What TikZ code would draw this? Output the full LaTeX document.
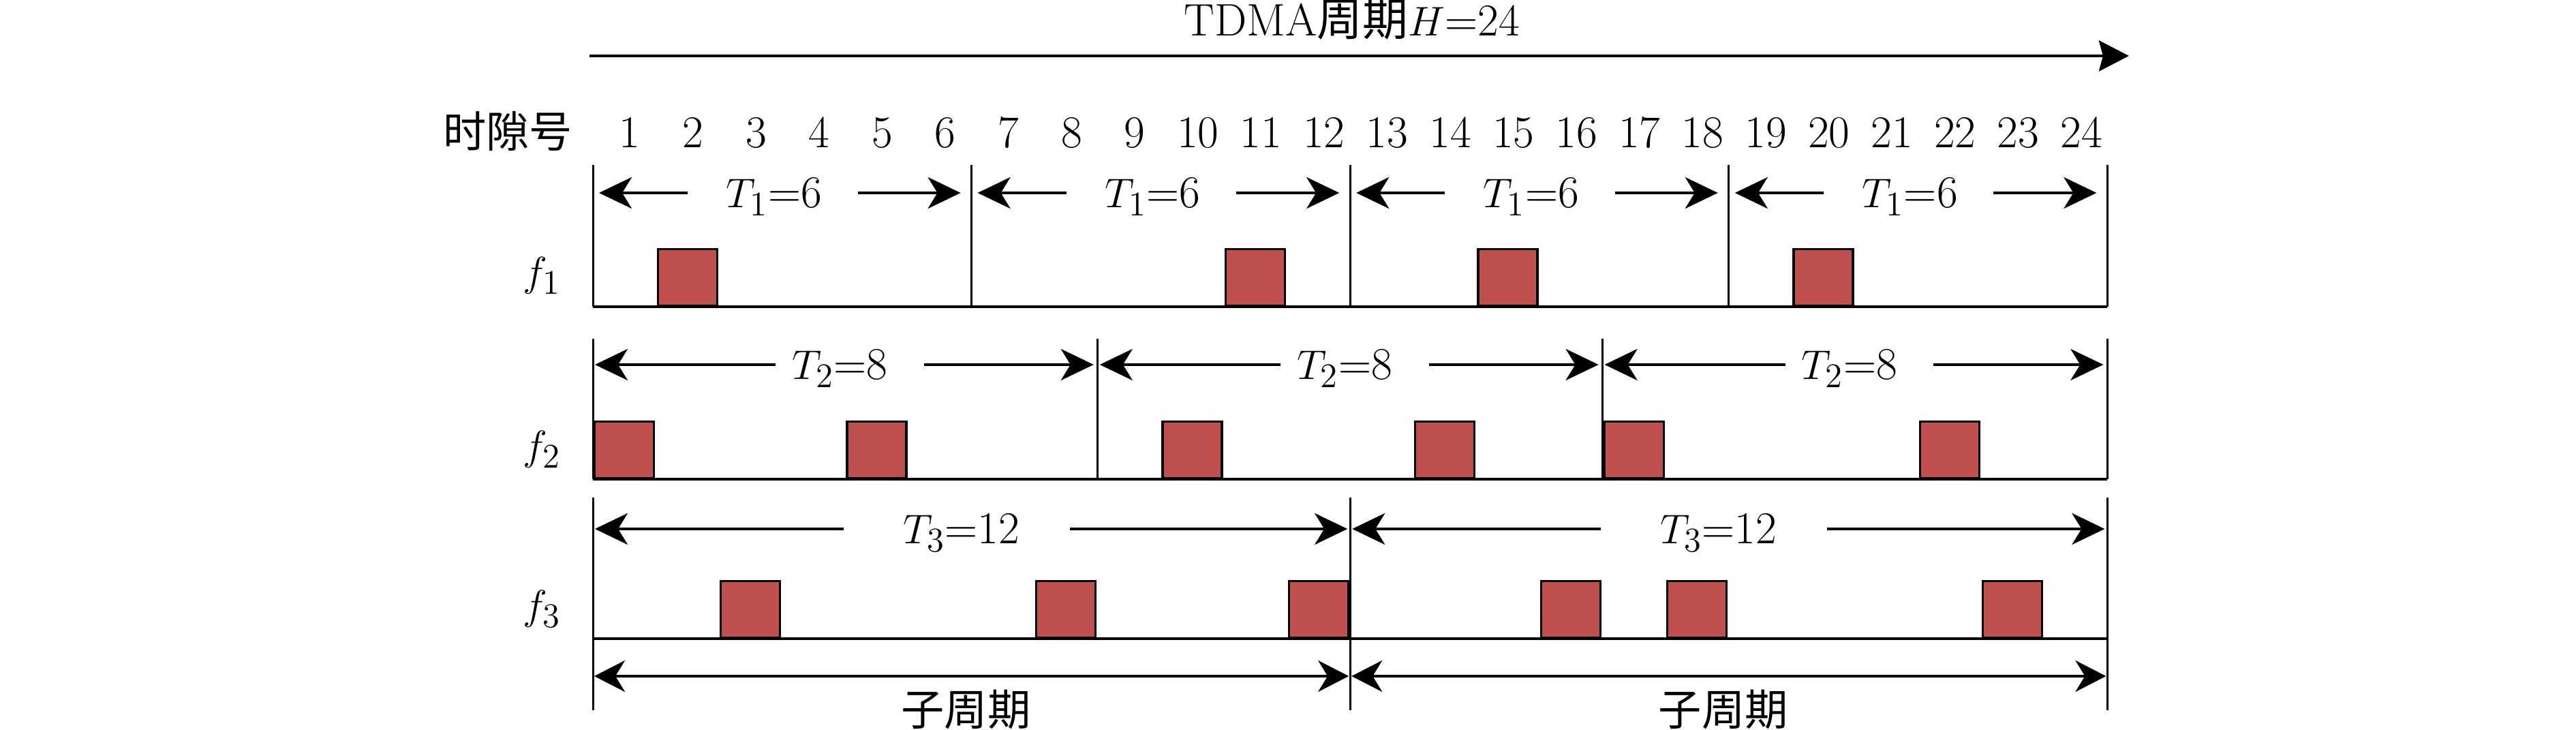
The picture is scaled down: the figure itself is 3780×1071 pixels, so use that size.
\documentclass[tikz,border=0pt]{standalone}
\usepackage{fontspec}
\newfontfamily\cjk{Noto Sans CJK SC}
\usetikzlibrary{arrows.meta}
\definecolor{slotred}{HTML}{C0504D}
\begin{document}
\begin{tikzpicture}[x=0.01cm,y=-0.01cm,
  every node/.style={inner sep=0pt, font=\fontsize{19}{22}\selectfont},
  cjktext/.style={font=\fontsize{18}{22}\selectfont\cjk},
  thinline/.style={line width=0.85pt},
  baseln/.style={line width=1.2pt},
  dimarrow/.style={line width=1.2pt, -{Stealth[length=0.48cm,width=0.46cm,inset=0.14cm]}},
  botharrow/.style={line width=1.2pt, {Stealth[length=0.45cm,width=0.46cm,inset=0.14cm]}-{Stealth[length=0.45cm,width=0.46cm,inset=0.14cm]}},
  slotbox/.style={draw, line width=0.9pt, fill=slotred, minimum width=0.87cm, minimum height=0.83cm, anchor=south west}
]
\useasboundingbox (0,0) rectangle (3780,1071);
\def\xo{870}
\def\cw{92.6}
% title arrow
\coordinate (hs) at (865,82);
\coordinate (he) at (3124,82);
\draw[line width=1.3pt, -{Stealth[length=0.44cm,width=0.45cm,inset=0.06cm]}] (hs) -- (he);
\node[anchor=base] (title) at (1984,53) {TDMA{\cjk 周期}$H$=24};
% slot numbers
\node[cjktext] (slotlbl) at (745,193) {时隙号};
\foreach \i in {1,...,24}{
  \node[anchor=base] (n\i) at ({\xo+(\i-0.5)*\cw+8},217) {\i};
}
% ---------- row f1 ----------
\node[anchor=base] (f1) at (795,420) {$f_1$};
\foreach \k in {0,...,4}{
  \coordinate (ra\k) at ({\xo+\k*6*\cw},242);
  \coordinate (rb\k) at ({\xo+\k*6*\cw},450);
  \draw[thinline] (ra\k) -- (rb\k);
}
\draw[baseln] (rb0) -- (rb4);
\foreach \k in {0,...,3}{
  \pgfmathsetmacro\s{\xo+\k*6*\cw}
  \pgfmathsetmacro\e{\s+6*\cw}
  \node[anchor=base] (pa\k) at ({(\s+\e)/2-12},305) {$T_1$=6};
  \coordinate (pal\k) at ({\s+139},283);
  \coordinate (pat\k) at ({\s+9},283);
  \coordinate (par\k) at ({\e-167},283);
  \coordinate (pau\k) at ({\e-16},283);
  \draw[dimarrow] (pal\k) -- (pat\k);
  \draw[dimarrow] (par\k) -- (pau\k);
}
\foreach \j in {2,11,15,20}{
  \node[slotbox] (sa\j) at ({\xo+(\j-1)*\cw+1},450) {};
}
% ---------- row f2 ----------
\node[anchor=base] (f2) at (795,675) {$f_2$};
\foreach \k in {0,...,3}{
  \coordinate (qa\k) at ({\xo+\k*8*\cw},497);
  \coordinate (qb\k) at ({\xo+\k*8*\cw},703);
  \draw[thinline] (qa\k) -- (qb\k);
}
\draw[baseln] (qb0) -- (qb3);
\foreach \k in {0,...,2}{
  \pgfmathsetmacro\s{\xo+\k*8*\cw}
  \pgfmathsetmacro\e{\s+8*\cw}
  \node[anchor=base] (pb\k) at ({(\s+\e)/2-8},557) {$T_2$=8};
  \coordinate (pbl\k) at ({\s+268},535);
  \coordinate (pbt\k) at ({\s+3},535);
  \coordinate (pbr\k) at ({\e-255},535);
  \coordinate (pbu\k) at ({\e-6},535);
  \draw[dimarrow] (pbl\k) -- (pbt\k);
  \draw[dimarrow] (pbr\k) -- (pbu\k);
}
\foreach \j in {1,5,10,14,17,22}{
  \node[slotbox] (sb\j) at ({\xo+(\j-1)*\cw+1},703) {};
}
% ---------- row f3 ----------
\node[anchor=base] (f3) at (795,909) {$f_3$};
\foreach \k in {0,...,2}{
  \coordinate (wa\k) at ({\xo+\k*12*\cw},730);
  \coordinate (wb\k) at ({\xo+\k*12*\cw},937);
  \coordinate (wc\k) at ({\xo+\k*12*\cw},1042);
  \draw[thinline] (wa\k) -- (wc\k);
}
\draw[baseln] (wb0) -- (wb2);
\foreach \k in {0,...,1}{
  \pgfmathsetmacro\s{\xo+\k*12*\cw}
  \pgfmathsetmacro\e{\s+12*\cw}
  \node[anchor=base] (pc\k) at ({(\s+\e)/2-15},798) {$T_3$=12};
  \coordinate (pcl\k) at ({\s+368},776);
  \coordinate (pct\k) at ({\s+3},776);
  \coordinate (pcr\k) at ({\e-411},776);
  \coordinate (pcu\k) at ({\e-4},776);
  \draw[dimarrow] (pcl\k) -- (pct\k);
  \draw[dimarrow] (pcr\k) -- (pcu\k);
  \coordinate (sl\k) at ({\s+2},992);
  \coordinate (sr\k) at ({\e-2},992);
  \draw[botharrow] (sl\k) -- (sr\k);
  \node[cjktext] (sub\k) at ({(\s+\e)/2-8},1041) {子周期};
}
\foreach \j in {3,8,12,16,18,23}{
  \node[slotbox] (sc\j) at ({\xo+(\j-1)*\cw+1},937) {};
}
\end{tikzpicture}
\end{document}
